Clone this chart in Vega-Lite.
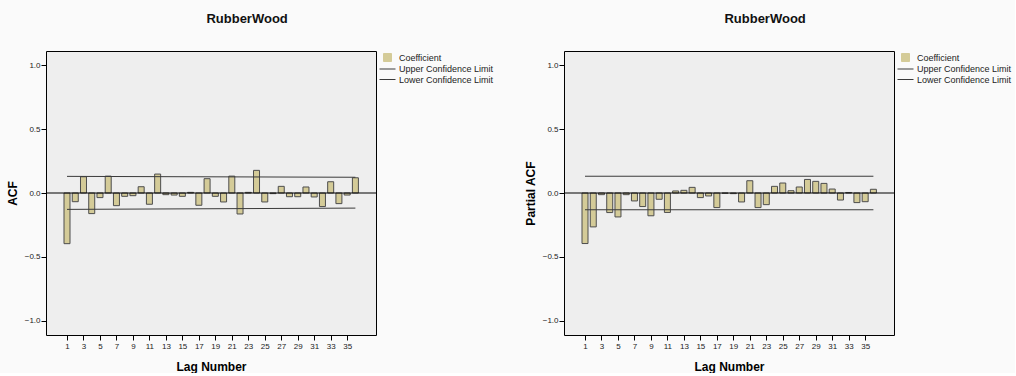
{
  "$schema": "https://vega.github.io/schema/vega-lite/v6.json",
  "background": "#fafafa",
  "padding": {"left": 5, "top": 12, "right": 0, "bottom": 0},
  "spacing": 26,
  "datasets": {
    "acf": [
      {"lag": 1, "value": -0.396}, {"lag": 2, "value": -0.068}, {"lag": 3, "value": 0.127}, {"lag": 4, "value": -0.161},
      {"lag": 5, "value": -0.036}, {"lag": 6, "value": 0.132}, {"lag": 7, "value": -0.099}, {"lag": 8, "value": -0.026},
      {"lag": 9, "value": -0.021}, {"lag": 10, "value": 0.049}, {"lag": 11, "value": -0.088}, {"lag": 12, "value": 0.148},
      {"lag": 13, "value": -0.013}, {"lag": 14, "value": -0.016}, {"lag": 15, "value": -0.026}, {"lag": 16, "value": 0.005},
      {"lag": 17, "value": -0.096}, {"lag": 18, "value": 0.112}, {"lag": 19, "value": -0.026}, {"lag": 20, "value": -0.07},
      {"lag": 21, "value": 0.132}, {"lag": 22, "value": -0.164}, {"lag": 23, "value": 0.005}, {"lag": 24, "value": 0.177},
      {"lag": 25, "value": -0.07}, {"lag": 26, "value": -0.005}, {"lag": 27, "value": 0.052}, {"lag": 28, "value": -0.029},
      {"lag": 29, "value": -0.029}, {"lag": 30, "value": 0.047}, {"lag": 31, "value": -0.031}, {"lag": 32, "value": -0.106},
      {"lag": 33, "value": 0.088}, {"lag": 34, "value": -0.083}, {"lag": 35, "value": -0.016}, {"lag": 36, "value": 0.119}
    ],
    "pacf": [
      {"lag": 1, "value": -0.395}, {"lag": 2, "value": -0.265}, {"lag": 3, "value": -0.013}, {"lag": 4, "value": -0.153},
      {"lag": 5, "value": -0.187}, {"lag": 6, "value": -0.013}, {"lag": 7, "value": -0.062}, {"lag": 8, "value": -0.106},
      {"lag": 9, "value": -0.178}, {"lag": 10, "value": -0.049}, {"lag": 11, "value": -0.152}, {"lag": 12, "value": 0.016},
      {"lag": 13, "value": 0.021}, {"lag": 14, "value": 0.044}, {"lag": 15, "value": -0.036}, {"lag": 16, "value": -0.023},
      {"lag": 17, "value": -0.114}, {"lag": 18, "value": -0.002}, {"lag": 19, "value": -0.005}, {"lag": 20, "value": -0.07},
      {"lag": 21, "value": 0.096}, {"lag": 22, "value": -0.114}, {"lag": 23, "value": -0.091}, {"lag": 24, "value": 0.052},
      {"lag": 25, "value": 0.078}, {"lag": 26, "value": 0.018}, {"lag": 27, "value": 0.047}, {"lag": 28, "value": 0.106},
      {"lag": 29, "value": 0.091}, {"lag": 30, "value": 0.075}, {"lag": 31, "value": 0.031}, {"lag": 32, "value": -0.055},
      {"lag": 33, "value": 0.004}, {"lag": 34, "value": -0.075}, {"lag": 35, "value": -0.068}, {"lag": 36, "value": 0.029}
    ],
    "acfLimits": [
      {"lag": 1, "value": 0.13, "series": "Upper Confidence Limit"},
      {"lag": 36, "value": 0.123, "series": "Upper Confidence Limit"},
      {"lag": 1, "value": -0.128, "series": "Lower Confidence Limit"},
      {"lag": 36, "value": -0.118, "series": "Lower Confidence Limit"}
    ],
    "pacfLimits": [
      {"lag": 1, "value": 0.131, "series": "Upper Confidence Limit"},
      {"lag": 36, "value": 0.131, "series": "Upper Confidence Limit"},
      {"lag": 1, "value": -0.131, "series": "Lower Confidence Limit"},
      {"lag": 36, "value": -0.131, "series": "Lower Confidence Limit"}
    ],
    "zero": [{"value": 0}]
  },
  "resolve": {"scale": {"color": "independent"}, "legend": {"color": "independent"}},
  "hconcat": [
    {
      "width": 330,
      "height": 284,
      "title": {"text": "RubberWood", "fontSize": 13, "fontWeight": "bold", "frame": "bounds", "anchor": "middle", "offset": 25, "dx": -4, "color": "#111"},
      "layer": [
        {
          "data": {"name": "acf"},
          "mark": {"type": "bar", "size": 6, "stroke": "#4d4d4d", "strokeWidth": 1},
          "encoding": {
            "x": {"field": "lag", "type": "quantitative", "scale": {"domain": [-1.55, 38.5], "nice": false, "zero": false, "padding": 0},
                  "axis": {"values": [1,3,5,7,9,11,13,15,17,19,21,23,25,27,29,31,33,35], "title": "Lag Number", "labelOverlap": false}},
            "y": {"field": "value", "type": "quantitative", "scale": {"domain": [-1.11, 1.11], "nice": false, "padding": 0},
                  "axis": {"values": [-1, -0.5, 0, 0.5, 1], "format": ".1f", "title": "ACF"}},
            "color": {"datum": "Coefficient", "type": "nominal",
                      "scale": {"domain": ["Coefficient", "Upper Confidence Limit", "Lower Confidence Limit"], "range": ["#d4cb98", "#3a3a3a", "#3a3a3a"]},
                      "legend": {"title": null,
                                 "encode": {"symbols": {"update": {
                                   "shape": {"signal": "datum.value === 'Coefficient' ? 'square' : 'M-2,0H2'"},
                                   "size": {"value": 64},
                                   "fill": {"signal": "datum.value === 'Coefficient' ? '#d4cb98' : 'transparent'"},
                                   "stroke": {"value": "#333333"},
                                   "strokeWidth": {"value": 1},
                                   "opacity": {"value": 1}}}}}}
          }
        },
        {
          "data": {"name": "acfLimits"},
          "mark": {"type": "line", "strokeWidth": 1},
          "encoding": {
            "x": {"field": "lag", "type": "quantitative", "axis": {"values": [1,3,5,7,9,11,13,15,17,19,21,23,25,27,29,31,33,35], "title": "Lag Number", "labelOverlap": false}},
            "y": {"field": "value", "type": "quantitative", "axis": {"values": [-1, -0.5, 0, 0.5, 1], "format": ".1f", "title": "ACF"}},
            "color": {"field": "series", "type": "nominal",
                      "legend": {"title": null,
                                 "encode": {"symbols": {"update": {
                                   "shape": {"signal": "datum.value === 'Coefficient' ? 'square' : 'M-2,0H2'"},
                                   "size": {"value": 64},
                                   "fill": {"signal": "datum.value === 'Coefficient' ? '#d4cb98' : 'transparent'"},
                                   "stroke": {"value": "#333333"},
                                   "strokeWidth": {"value": 1},
                                   "opacity": {"value": 1}}}}}}
          }
        },
        {
          "data": {"name": "zero"},
          "mark": {"type": "rule", "color": "#000", "strokeWidth": 1},
          "encoding": {"y": {"field": "value", "type": "quantitative", "axis": {"values": [-1, -0.5, 0, 0.5, 1], "format": ".1f", "title": "ACF"}}}
        }
      ]
    },
    {
      "width": 330,
      "height": 284,
      "title": {"text": "RubberWood", "fontSize": 13, "fontWeight": "bold", "frame": "bounds", "anchor": "middle", "offset": 25, "dx": -4, "color": "#111"},
      "layer": [
        {
          "data": {"name": "pacf"},
          "mark": {"type": "bar", "size": 6, "stroke": "#4d4d4d", "strokeWidth": 1},
          "encoding": {
            "x": {"field": "lag", "type": "quantitative", "scale": {"domain": [-1.55, 38.5], "nice": false, "zero": false, "padding": 0},
                  "axis": {"values": [1,3,5,7,9,11,13,15,17,19,21,23,25,27,29,31,33,35], "title": "Lag Number", "labelOverlap": false}},
            "y": {"field": "value", "type": "quantitative", "scale": {"domain": [-1.11, 1.11], "nice": false, "padding": 0},
                  "axis": {"values": [-1, -0.5, 0, 0.5, 1], "format": ".1f", "title": "Partial ACF"}},
            "color": {"datum": "Coefficient", "type": "nominal",
                      "scale": {"domain": ["Coefficient", "Upper Confidence Limit", "Lower Confidence Limit"], "range": ["#d4cb98", "#3a3a3a", "#3a3a3a"]},
                      "legend": {"title": null,
                                 "encode": {"symbols": {"update": {
                                   "shape": {"signal": "datum.value === 'Coefficient' ? 'square' : 'M-2,0H2'"},
                                   "size": {"value": 64},
                                   "fill": {"signal": "datum.value === 'Coefficient' ? '#d4cb98' : 'transparent'"},
                                   "stroke": {"value": "#333333"},
                                   "strokeWidth": {"value": 1},
                                   "opacity": {"value": 1}}}}}}
          }
        },
        {
          "data": {"name": "pacfLimits"},
          "mark": {"type": "line", "strokeWidth": 1},
          "encoding": {
            "x": {"field": "lag", "type": "quantitative", "axis": {"values": [1,3,5,7,9,11,13,15,17,19,21,23,25,27,29,31,33,35], "title": "Lag Number", "labelOverlap": false}},
            "y": {"field": "value", "type": "quantitative", "axis": {"values": [-1, -0.5, 0, 0.5, 1], "format": ".1f", "title": "Partial ACF"}},
            "color": {"field": "series", "type": "nominal",
                      "legend": {"title": null,
                                 "encode": {"symbols": {"update": {
                                   "shape": {"signal": "datum.value === 'Coefficient' ? 'square' : 'M-2,0H2'"},
                                   "size": {"value": 64},
                                   "fill": {"signal": "datum.value === 'Coefficient' ? '#d4cb98' : 'transparent'"},
                                   "stroke": {"value": "#333333"},
                                   "strokeWidth": {"value": 1},
                                   "opacity": {"value": 1}}}}}}
          }
        },
        {
          "data": {"name": "zero"},
          "mark": {"type": "rule", "color": "#000", "strokeWidth": 1},
          "encoding": {"y": {"field": "value", "type": "quantitative", "axis": {"values": [-1, -0.5, 0, 0.5, 1], "format": ".1f", "title": "Partial ACF"}}}
        }
      ]
    }
  ],
  "config": {
    "font": "Liberation Sans",
    "view": {"fill": "#eeeeee", "stroke": "#000", "strokeWidth": 1},
    "axis": {"domain": false, "grid": false, "labelFontSize": 8, "labelColor": "#222", "tickColor": "#000", "titleFontSize": 12, "titleFontWeight": "bold", "titleColor": "#000", "tickSize": 5, "labelOverlap": false},
    "axisX": {"labelPadding": 2, "titlePadding": 11, "labelFlush": false},
    "axisY": {"labelPadding": 1, "titlePadding": 5},
    "legend": {"orient": "right", "offset": 5, "padding": 2, "symbolSize": 64, "labelFontSize": 9, "labelColor": "#222", "labelOffset": 7, "rowPadding": 0.5, "labelFont": "Liberation Sans", "labelLimit": 200}
  }
}
